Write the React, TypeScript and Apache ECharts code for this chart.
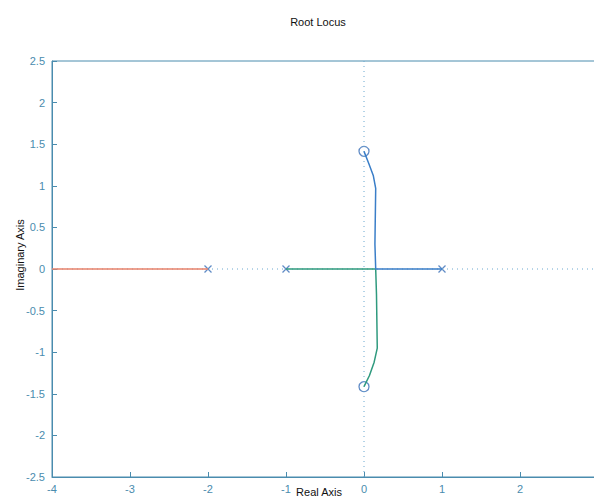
import React, { useEffect, useRef } from "react";
import * as echarts from "echarts";

const xTicks = [-4, 3];
const yTicks = [-2.5, 2.5];
const poles: [number, number][] = [[-2, 0], [-1, 0], [1, 0]];
const zeros: [number, number][] = [[0, 1.414], [0, -1.414]];
const redBranch: [number, number][] = [[-2, 0], [-4, 0]];
const greenBranch: [number, number][] = [
  [-1, 0], [-0.5, 0], [0, 0], [0.15, 0], [0.16, -0.3], [0.17, -0.95], [0.13, -1.12], [0.07, -1.28], [0, -1.414],
];
const blueBranch: [number, number][] = [
  [1, 0], [0.5, 0], [0.15, 0], [0.14, 0.3], [0.15, 0.97], [0.12, 1.12], [0.06, 1.27], [0, 1.414],
];

const axisColor = "#4a8cae";
const font = "Liberation Sans, Arial, sans-serif";

export default function App() {
  const ref = useRef<HTMLDivElement>(null);
  useEffect(() => {
    document.body.style.margin = "0";
    const chart = echarts.init(ref.current!, null, { renderer: "svg" });
    chart.setOption({
      animation: false,
      backgroundColor: "#ffffff",
      title: {
        text: "Root Locus",
        left: 313,
        top: 11,
        textAlign: "center",
        textStyle: { fontFamily: font, fontSize: 11, fontWeight: "normal", color: "#111" },
      },
      grid: {
        left: 52, top: 61, width: 546, height: 416,
        outerBoundsMode: "none",
        containLabel: false,
        show: true, borderColor: axisColor, borderWidth: 1, backgroundColor: "transparent",
      },
      xAxis: {
        type: "value", min: xTicks[0], max: xTicks[1], interval: 1,
        axisLine: { show: true, onZero: false, lineStyle: { color: axisColor } },
        axisTick: { show: true, inside: true, length: 5, lineStyle: { color: axisColor } },
        splitLine: { show: false },
        axisLabel: { color: axisColor, fontFamily: font, fontSize: 11, margin: 6 },
      },
      yAxis: {
        type: "value", min: yTicks[0], max: yTicks[1], interval: 0.5,
        axisLine: { show: true, onZero: false, lineStyle: { color: axisColor } },
        axisTick: { show: true, inside: true, length: 5, lineStyle: { color: axisColor } },
        splitLine: { show: false },
        axisLabel: { color: axisColor, fontFamily: font, fontSize: 11, margin: 7 },
      },
      graphic: [
        {
          type: "text", x: 20, y: 255, rotation: Math.PI / 2,
          style: { text: "Imaginary Axis", fill: "#111", font: `11px ${font}`, align: "center", verticalAlign: "middle" },
        },
        {
          type: "text", x: 319, y: 492,
          style: { text: "Real Axis", fill: "#111", font: `11px ${font}`, align: "center", verticalAlign: "middle" },
        },
      ],
      series: [
        {
          type: "line", data: [[xTicks[0], 0], [xTicks[1], 0]], symbol: "none", silent: true,
          lineStyle: { color: "#6aa8d0", width: 1, type: [1, 4] },
        },
        {
          type: "line", data: [[0, yTicks[0]], [0, yTicks[1]]], symbol: "none", silent: true,
          lineStyle: { color: "#6aa8d0", width: 1, type: [1, 4] },
        },
        { type: "line", data: redBranch, symbol: "none", lineStyle: { color: "#e8826a", width: 1.5 } },
        { type: "line", data: greenBranch, symbol: "none", lineStyle: { color: "#2f9a7e", width: 1.5 } },
        { type: "line", data: blueBranch, symbol: "none", lineStyle: { color: "#3a7ec8", width: 1.5 } },
        {
          type: "scatter", data: poles, symbol: "path://M0,0L10,10M10,0L0,10", symbolSize: 7,
          itemStyle: { color: "transparent", borderColor: "#3a6fb8", borderWidth: 1.3 },
        },
        {
          type: "scatter", data: zeros, symbol: "circle", symbolSize: 10,
          itemStyle: { color: "transparent", borderColor: "#3a6fb8", borderWidth: 1.3 },
        },
      ],
    });
    return () => chart.dispose();
  }, []);
  return <div ref={ref} style={{ width: 594, height: 501 }} />;
}
